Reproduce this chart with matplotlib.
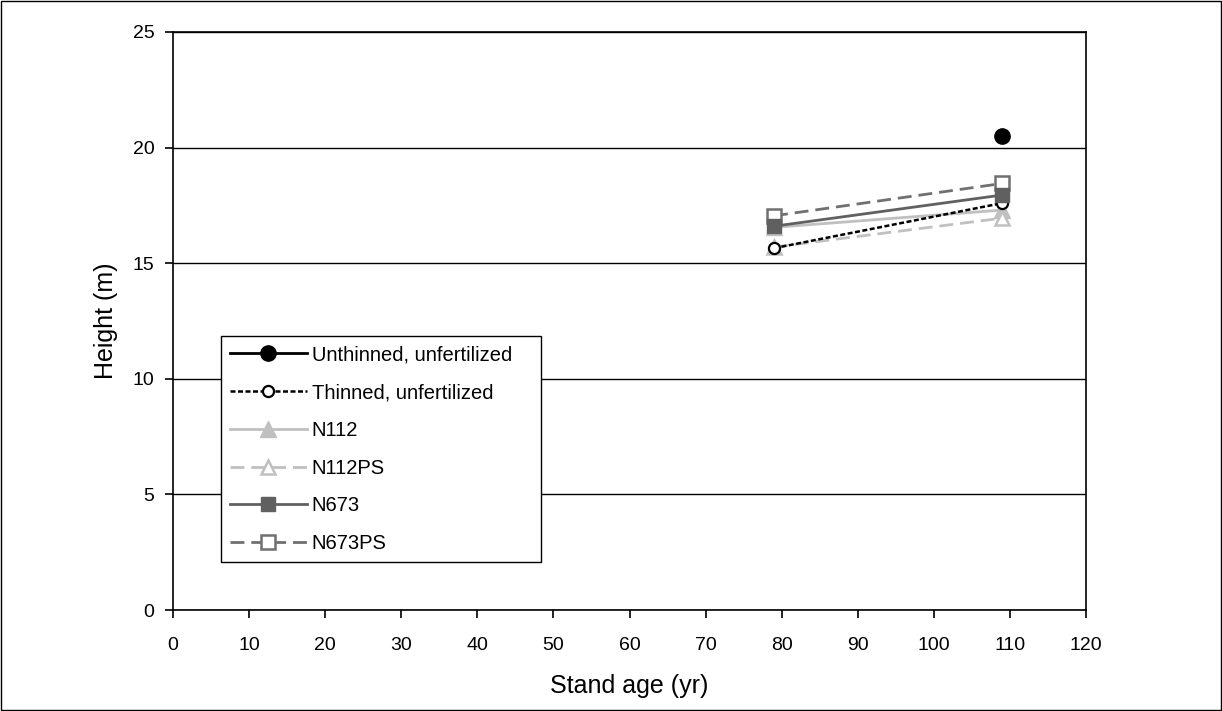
import matplotlib
matplotlib.use("Agg")
import matplotlib.pyplot as plt
from matplotlib.patches import Rectangle

plt.rcParams['font.family'] = ['Liberation Sans', 'DejaVu Sans']

unthinned_x = [109]
unthinned_y = [20.5]
thinned_x = [79, 109]
thinned_y = [15.65, 17.6]
n112_x = [79, 109]
n112_y = [16.55, 17.3]
n112ps_x = [79, 109]
n112ps_y = [15.7, 16.95]
n673_x = [79, 109]
n673_y = [16.6, 17.95]
n673ps_x = [79, 109]
n673ps_y = [17.05, 18.45]

xticks = list(range(0, 121, 10))
yticks = [0, 5, 10, 15, 20, 25]

fig = plt.figure(figsize=(12.22, 7.11), dpi=100)
fig.patches.append(Rectangle((0.001, 0.001), 0.998, 0.998, transform=fig.transFigure,
                             fill=False, edgecolor='black', linewidth=1.0))
ax = fig.add_axes([0.1416, 0.1420, 0.7471, 0.8130])

light = '#c0c0c0'
dark = '#606060'
mid = '#707070'

ax.plot(unthinned_x, unthinned_y, color='black', linestyle='-', marker='o', markersize=11,
        linewidth=2, label='Unthinned, unfertilized', zorder=5)
ax.plot(thinned_x, thinned_y, color='black', linestyle=(0, (2, 1)), marker='o', markersize=8,
        markerfacecolor='white', markeredgecolor='black', markeredgewidth=1.6,
        linewidth=1.8, label='Thinned, unfertilized', zorder=4)
ax.plot(n112_x, n112_y, color=light, linestyle='-', marker='^', markersize=11,
        linewidth=2, label='N112', zorder=3)
ax.plot(n112ps_x, n112ps_y, color=light, linestyle=(0, (5, 2.5)), marker='^', markersize=10,
        markerfacecolor='white', markeredgecolor=light, markeredgewidth=1.8,
        linewidth=2, label='N112PS', zorder=3)
ax.plot(n673_x, n673_y, color=dark, linestyle='-', marker='s', markersize=9.5,
        linewidth=2, label='N673', zorder=4)
ax.plot(n673ps_x, n673ps_y, color=mid, linestyle=(0, (5, 2.5)), marker='s', markersize=9.5,
        markerfacecolor='white', markeredgecolor=mid, markeredgewidth=1.8,
        linewidth=2, label='N673PS', zorder=3)

ax.set_xlim(0, 120)
ax.set_ylim(0, 25)
ax.set_xticks(xticks)
ax.set_yticks(yticks)
ax.yaxis.grid(True, color='black', linewidth=1.0)
ax.set_axisbelow(True)
ax.tick_params(axis='both', direction='out', length=5.5, width=1.2, labelsize=14, colors='black')
ax.tick_params(axis='x', pad=14)
ax.tick_params(axis='y', pad=8)
for s in ax.spines.values():
    s.set_color('black')
    s.set_linewidth(1.2)

ax.set_xlabel('Stand age (yr)', fontsize=18, va='center')
ax.set_ylabel('Height (m)', fontsize=18, va='center')
ax.xaxis.set_label_coords(0.5, -0.131)
ax.yaxis.set_label_coords(-0.0735, 0.5)

leg = ax.legend(loc='lower left', bbox_to_anchor=(0.0526, 0.0828, 0.3505, 0.0), mode='expand',
                fontsize=14.5, frameon=True, fancybox=False, edgecolor='black', framealpha=1,
                handlelength=3.8, handletextpad=0.25, labelspacing=0.93,
                borderpad=0.45, borderaxespad=0)
leg.get_frame().set_linewidth(1.0)

fig.savefig('out.png', dpi=100)
